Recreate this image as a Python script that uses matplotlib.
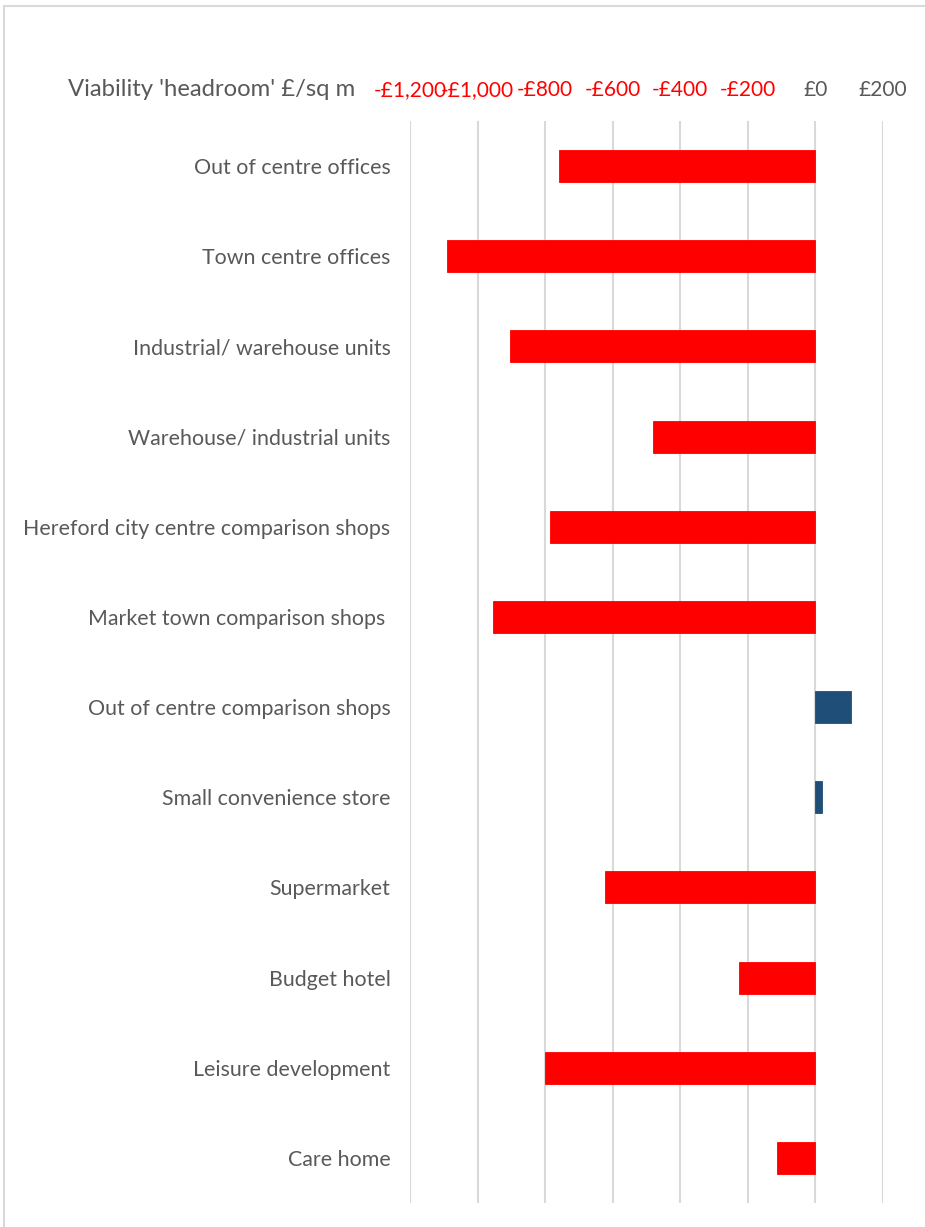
import matplotlib.pyplot as plt
from matplotlib.patches import Rectangle

plt.rcParams['font.family'] = ['Lato', 'DejaVu Sans']

# --- Data: viability headroom per use class (GBP per sq m) ---
categories = [
    "Out of centre offices",
    "Town centre offices",
    "Industrial/ warehouse units",
    "Warehouse/ industrial units",
    "Hereford city centre comparison shops",
    "Market town comparison shops ",
    "Out of centre comparison shops",
    "Small convenience store",
    "Supermarket",
    "Budget hotel",
    "Leisure development",
    "Care home",
]
headroom = [-760, -1090, -905, -480, -785, -953, 105, 20, -624, -227, -800, -114]
tick_values = [-1200, -1000, -800, -600, -400, -200, 0, 200]

GREY = "#595959"
NEG = "#ff0000"
POS = "#1f4e79"

fig = plt.figure(figsize=(9.25, 12.27), dpi=100)
ax = fig.add_axes([410 / 925, 1 - 1203 / 1227, 473 / 925, (1203 - 121) / 1227])

y = list(range(len(categories)))
colors = [NEG if v < 0 else POS for v in headroom]
ax.barh(y, headroom, height=0.355, color=colors, edgecolor=colors,
        linewidth=0.6, zorder=3)

ax.set_xlim(-1200, 200)
ax.set_ylim(len(categories) - 0.5, -0.5)

# value axis on top, Excel style currency format
ax.xaxis.tick_top()
ax.set_xticks(tick_values)
labels = [("-£{:,}".format(-v) if v < 0 else "£{:,}".format(v)) for v in tick_values]
ax.set_xticklabels(labels, fontsize=15)
for lab, v in zip(ax.get_xticklabels(), tick_values):
    lab.set_color(NEG if v < 0 else GREY)
ax.tick_params(axis='x', length=0, pad=15)

ax.set_yticks(y)
ax.set_yticklabels(categories, fontsize=15.4, color=GREY)
ax.tick_params(axis='y', length=0, pad=14)

ax.grid(axis='x', color="#d9d9d9", linewidth=1.5, zorder=0)
for s in ax.spines.values():
    s.set_visible(False)

fig.text(355 / 925, 1 - 90 / 1227, "Viability 'headroom' £/sq m",
         ha='right', va='center', fontsize=17.2, color=GREY)

# chart area border
fig.add_artist(Rectangle((4 / 925, -0.01), 1.0, 1 - 6 / 1227 + 0.01,
                         transform=fig.transFigure, fill=False,
                         edgecolor="#d9d9d9", linewidth=1.5))

fig.savefig("out.png", dpi=100)
